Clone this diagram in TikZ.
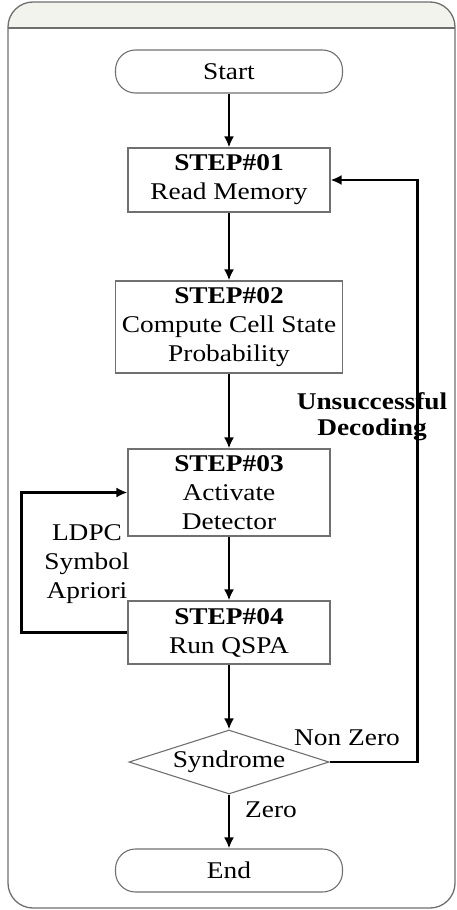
\documentclass[tikz,border=0pt]{standalone}
\usepackage{fontspec}
\setmainfont{Liberation Serif}[FakeStretch=1.14]
\usetikzlibrary{arrows.meta,shapes.geometric}

\definecolor{framegray}{HTML}{6E6E6E}
\definecolor{boxgray}{HTML}{707070}
\definecolor{headfill}{HTML}{F3F3EE}

\tikzset{
  terminal/.style={draw=boxgray, line width=1.1pt, rounded corners=20pt,
    minimum width=227pt, minimum height=43pt, inner sep=0pt},
  stepbox/.style={draw=boxgray, line width=1.1pt, rectangle, align=center,
    minimum width=202pt, inner sep=2pt},
  decision/.style={draw=boxgray, line width=1.1pt, diamond, aspect=3.1,
    minimum width=200pt, minimum height=64pt, inner sep=0pt},
  flow/.style={line width=2.6pt, -{Latex[length=11pt,width=10pt]}},
  note/.style={align=center, inner sep=0pt}
}

\begin{document}
\begin{tikzpicture}[x=1pt, y=-1pt, font=\fontsize{24}{29}\selectfont]
  \useasboundingbox (0,0) rectangle (456,910);
  % frame with header band
  \begin{scope}
    \clip[rounded corners=25pt] (8,2) rectangle (455,908);
    \fill[headfill] (8,2) rectangle (455,28);
  \end{scope}
  \draw[framegray, line width=1.3pt, rounded corners=25pt] (8,2) rectangle (455,908);
  \draw[framegray, line width=1.3pt] (8,28) -- (455,28);

  % blocks
  \node[terminal] (start) at (229,71.5) {Start};
  \node[stepbox, minimum height=64pt] (s1) at (229,180)
    {\textbf{STEP\#01}\\Read Memory};
  \node[stepbox, minimum width=227pt, minimum height=92pt] (s2) at (229,327)
    {\textbf{STEP\#02}\\Compute Cell State\\Probability};
  \node[stepbox, minimum height=87pt] (s3) at (229,492.5)
    {\textbf{STEP\#03}\\Activate\\Detector};
  \node[stepbox, minimum height=63pt] (s4) at (229,632.5)
    {\textbf{STEP\#04}\\Run QSPA};
  \node[decision] (syn) at (229,762) {Syndrome};
  \node[terminal] (end) at (229,870.5) {End};

  % main flow
  \draw[flow] (start) -- (s1);
  \draw[flow] (s1) -- (s2);
  \draw[flow] (s2) -- (s3);
  \draw[flow] (s3) -- (s4);
  \draw[flow] (s4) -- (syn);
  \draw[flow] (syn) -- (end);

  % feedback loops
  \draw[flow] (syn.east) -- ++(88,0) |- (s1.east);
  \draw[flow] (s4.west) -- ++(-106,0) |- (s3.west);

  % labels
  \node[note] (nonzero) at (347,738) {Non Zero};
  \node[note] (zero) at (271,810) {Zero};
  \node[note, font=\fontsize{24}{26}\selectfont\bfseries] (unsucc) at (372,417)
    {Unsuccessful\\Decoding};
  \node[note] (ldpc) at (87,564) {LDPC\\Symbol\\Apriori};
\end{tikzpicture}
\end{document}
